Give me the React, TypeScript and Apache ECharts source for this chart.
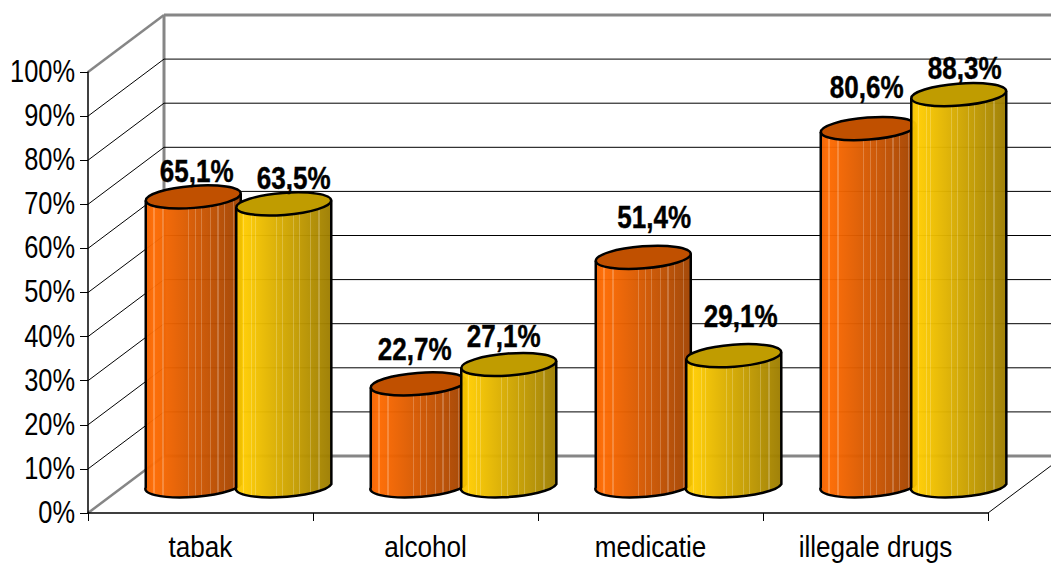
import React, { useEffect, useRef } from "react";
import * as echarts from "echarts";

const categories = ["tabak", "alcohol", "medicatie", "illegale drugs"];
const orangeValues = [65.1, 22.7, 51.4, 80.6];
const yellowValues = [63.5, 27.1, 29.1, 88.3];
const gridTicks = [0, 10, 20, 30, 40, 50, 60, 70, 80, 90, 100];

// Styling / placement tables, separate from the data
const orangeLabelShift = [[3.5, -26], [-3.5, -35], [11, -40], [-1.5, -41]];
const yellowLabelShift = [[10, -26], [-5, -28], [7, -39], [6, -26]];
const orangeStripes = [0.09, 0.185, 0.455, 0.525, 0.59, 0.685, 0.76, 0.83, 0.925];
const yellowStripes = [0.08, 0.16, 0.21, 0.43, 0.49, 0.6, 0.67, 0.78, 0.87];

const FONT = '"Liberation Sans", Arial, sans-serif';
const NARROW = 0.82;
const DEPTH_X = 76;
const DEPTH_Y = 57;
const BAR_GAP = 45.25;
const HALF_W = 47.5;
const TILT_DY = 3.5;
const RX = 47.6;
const RY = 11;
const ROT_DEG = 4.4;

function mixRgb(a: number[], b: number[], t: number) {
  return a.map((v, i) => Math.round(v + (b[i] - v) * t));
}
const css = (c: number[]) => `rgb(${c.join(",")})`;

function bodyGradient(edge: number[], bright: number[], dark: number[], stripes: number[]) {
  const col = (t: number) =>
    t < 0.08 ? mixRgb(edge, bright, t / 0.08) : mixRgb(bright, dark, (t - 0.08) / 0.92);
  const stops: { offset: number; color: string }[] = [{ offset: 0, color: css(col(0)) }];
  const w = 0.006;
  stripes.forEach((s) => {
    const light = css(mixRgb(col(s), [255, 255, 255], 0.22));
    stops.push({ offset: s - w, color: css(col(s - w)) });
    stops.push({ offset: s - w, color: light });
    stops.push({ offset: s + w, color: light });
    stops.push({ offset: s + w, color: css(col(s + w)) });
  });
  stops.push({ offset: 1, color: css(col(1)) });
  return new echarts.graphic.LinearGradient(0, 0, 1, 0, stops);
}

function cylinderRenderer(
  side: number,
  edge: number[],
  bright: number[],
  dark: number[],
  topColor: string,
  stripes: number[],
  labelShift: number[][]
) {
  return (params: any, api: any) => {
    const idx = api.value(0);
    const val = api.value(1);
    const base = api.coord([idx, 0]);
    const top = api.coord([idx, val]);
    const cx = base[0] + DEPTH_X / 2 + side * BAR_GAP;
    const by = base[1] - DEPTH_Y / 2 - 0.5;
    const ty = top[1] - DEPTH_Y / 2 - 0.5;
    const l = cx - HALF_W;
    const r = cx + HALF_W;
    const arc = `A${RX} ${RY} ${-ROT_DEG}`;
    const bodyD =
      `M${l} ${ty + TILT_DY}L${l} ${by + TILT_DY}${arc} 0 0 ${r} ${by - TILT_DY}` +
      `L${r} ${ty - TILT_DY}`;
    const shift = labelShift[idx];
    return {
      type: "group",
      children: [
        {
          type: "path",
          shape: { pathData: bodyD + "Z" },
          style: { fill: bodyGradient(edge, bright, dark, stripes), opacity: 0.96 },
        },
        {
          type: "path",
          shape: { pathData: bodyD },
          style: { fill: "none", stroke: "#000", lineWidth: 2.5, lineJoin: "round" },
        },
        {
          type: "ellipse",
          x: cx,
          y: ty,
          rotation: (ROT_DEG * Math.PI) / 180,
          shape: { cx: 0, cy: 0, rx: RX, ry: RY },
          style: { fill: topColor, stroke: "#000", lineWidth: 2.5 },
        },
        {
          type: "text",
          x: cx + shift[0],
          y: ty + shift[1],
          scaleX: 0.84,
          style: {
            x: 0,
            y: 0,
            text: val.toFixed(1).replace(".", ",") + "%",
            font: `bold 31px ${FONT}`,
            fill: "#000",
            stroke: "#000",
            lineWidth: 0.4,
            align: "center",
            verticalAlign: "middle",
          },
        },
      ],
    };
  };
}

function wallsRenderer(params: any, api: any) {
  const tick = api.value(0);
  const p = api.coord([0, tick]);
  const band = api.size([1, 0])[0] as number;
  const x0 = p[0] - band / 2;
  const xEnd = x0 + band * categories.length;
  const isEdge = tick === 0 || tick === 100;
  const stroke = isEdge ? "#868686" : "#000";
  const lineWidth = isEdge ? 3 : 1;
  const thin = isEdge ? 2.5 : 1;
  const y = p[1];
  const children: any[] = [
    {
      type: "line",
      shape: { x1: x0, y1: y, x2: x0 + DEPTH_X, y2: y - DEPTH_Y },
      style: { stroke, lineWidth: thin },
    },
    {
      type: "line",
      shape: { x1: x0 + DEPTH_X, y1: y - DEPTH_Y, x2: xEnd + DEPTH_X, y2: y - DEPTH_Y },
      style: { stroke, lineWidth },
    },
    {
      type: "text",
      x: x0 - 13,
      y: y - 1,
      scaleX: NARROW,
      style: {
        x: 0,
        y: 0,
        text: `${tick}%`,
        font: `31px ${FONT}`,
        fill: "#000",
        align: "right",
        verticalAlign: "middle",
      },
    },
  ];
  if (tick === 0) {
    const top = api.coord([0, 100])[1];
    children.push({
      type: "line",
      shape: { x1: x0 + DEPTH_X, y1: y - DEPTH_Y, x2: x0 + DEPTH_X, y2: top - DEPTH_Y },
      style: { stroke: "#868686", lineWidth: 3 },
    });
    children.push({
      type: "line",
      shape: { x1: xEnd, y1: y, x2: xEnd + DEPTH_X, y2: y - DEPTH_Y },
      style: { stroke: "#000", lineWidth: 1 },
    });
  }
  return { type: "group", children };
}

function categoryRenderer(params: any, api: any) {
  const idx = api.value(0);
  const p = api.coord([idx, 0]);
  return {
    type: "text",
    x: p[0],
    y: p[1] + 34,
    scaleX: 0.87,
    style: {
      x: 0,
      y: 0,
      text: categories[idx],
      font: `30px ${FONT}`,
      fill: "#000",
      align: "center",
      verticalAlign: "middle",
    },
  };
}

export default function App() {
  const ref = useRef<HTMLDivElement>(null);
  useEffect(() => {
    document.body.style.margin = "0";
    const chart = echarts.init(ref.current!, null, { renderer: "svg" });
    chart.setOption({
      animation: false,
      backgroundColor: "#fff",
      grid: { left: 88, top: 72, width: 900, height: 441, outerBoundsMode: "none" },
      xAxis: {
        type: "category",
        data: categories,
        axisLine: { lineStyle: { color: "#000", width: 1.5 } },
        axisTick: { show: true, length: 8, alignWithLabel: false, lineStyle: { color: "#000", width: 1 } },
        axisLabel: { show: false },
        splitLine: { show: false },
      },
      yAxis: {
        type: "value",
        min: 0,
        max: 100,
        interval: 10,
        axisLine: { show: true, lineStyle: { color: "#000", width: 1.5 } },
        axisTick: { show: true, length: 8, lineStyle: { color: "#000", width: 1 } },
        axisLabel: { show: false },
        splitLine: { show: false },
      },
      series: [
        {
          type: "custom",
          name: "walls",
          clip: false,
          silent: true,
          z: 0,
          data: gridTicks.map((t) => [t]),
          encode: { y: 0 },
          renderItem: wallsRenderer,
        },
        {
          type: "custom",
          name: "categories",
          clip: false,
          silent: true,
          z: 1,
          data: categories.map((_, i) => [i]),
          encode: { x: 0 },
          renderItem: categoryRenderer,
        },
        {
          type: "custom",
          name: "oranje",
          clip: false,
          z: 3,
          data: orangeValues.map((v, i) => [i, v]),
          encode: { x: 0, y: 1 },
          renderItem: cylinderRenderer(
            -1,
            [238, 96, 0],
            [255, 106, 0],
            [160, 66, 0],
            "#C05000",
            orangeStripes,
            orangeLabelShift
          ),
        },
        {
          type: "custom",
          name: "geel",
          clip: false,
          z: 4,
          data: yellowValues.map((v, i) => [i, v]),
          encode: { x: 0, y: 1 },
          renderItem: cylinderRenderer(
            1,
            [240, 190, 0],
            [255, 204, 0],
            [156, 124, 0],
            "#C09C00",
            yellowStripes,
            yellowLabelShift
          ),
        },
      ],
    });
    return () => chart.dispose();
  }, []);
  return <div ref={ref} style={{ width: 1051, height: 563 }} />;
}
